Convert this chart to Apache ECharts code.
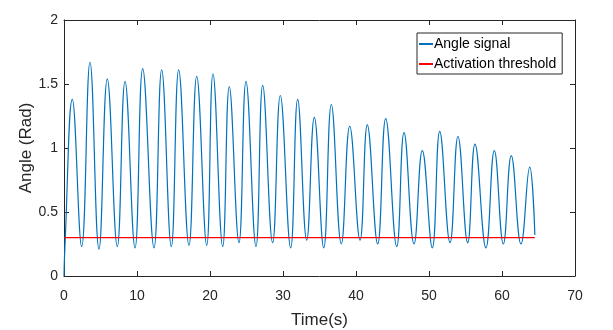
<!DOCTYPE html>
<html>
<head>
<meta charset="utf-8">
<script src="https://cdn.jsdelivr.net/npm/echarts@6/dist/echarts.min.js"></script>
<style>
  html, body { margin: 0; padding: 0; background: #fff; }
  #main { width: 613px; height: 330px; }
</style>
</head>
<body>
<div id="main"></div>
<script>
// values
var startPoints = [[0, 0], [0.12, 0.22]];
var peakTimes = [1.14, 3.56, 5.93, 8.36, 10.78, 13.38, 15.71, 18.18, 20.41, 22.64,
  24.93, 27.22, 29.63, 32.01, 34.29, 36.62, 39.14, 41.55, 44.07, 46.58,
  49.08, 51.47, 53.97, 56.30, 58.95, 61.27, 63.79];
var peakValues = [1.38, 1.67, 1.54, 1.52, 1.62, 1.61, 1.61, 1.56, 1.58, 1.48,
  1.52, 1.49, 1.41, 1.38, 1.24, 1.34, 1.17, 1.18, 1.23, 1.12,
  0.98, 1.13, 1.09, 1.03, 0.98, 0.94, 0.85];
var troughTimes = [2.42, 4.79, 7.30, 9.73, 12.33, 14.70, 17.12, 19.55, 21.74,
  23.97, 26.30, 28.58, 31.05, 33.25, 35.58, 37.99, 40.55, 42.97, 45.58,
  47.95, 50.45, 52.88, 55.30, 57.80, 60.18, 62.60];
var troughValues = [0.23, 0.21, 0.23, 0.22, 0.22, 0.23, 0.24, 0.24, 0.23,
  0.26, 0.23, 0.26, 0.22, 0.28, 0.22, 0.25, 0.28, 0.25, 0.23,
  0.25, 0.22, 0.26, 0.26, 0.22, 0.25, 0.25];
var endPoint = [64.5, 0.32];
var threshold = 0.3;
var thresholdRange = [0, 64.5];

var signal = startPoints.slice();
for (var i = 0; i < peakTimes.length; i++) {
  signal.push([peakTimes[i], peakValues[i]]);
  if (i < troughTimes.length) signal.push([troughTimes[i], troughValues[i]]);
}
signal.push(endPoint);

var axisColor = '#262626';
var font = 'Liberation Sans, Arial, sans-serif';

var chart = echarts.init(document.getElementById('main'));
var option = {
  animation: false,
  backgroundColor: '#fff',
  grid: { left: 64, right: 38, top: 20, bottom: 54, containLabel: false, outerBoundsMode: 'none' },
  legend: {
    left: 417, top: 33,
    orient: 'vertical',
    itemWidth: 14, itemHeight: 2, itemGap: 6,
    padding: [4, 6, 3, 2],
    backgroundColor: '#fff',
    borderColor: axisColor, borderWidth: 1, borderRadius: 0,
    textStyle: { fontFamily: font, fontSize: 14, color: '#000', padding: [0, 0, 0, -4] },
    data: [
      { name: 'Angle signal', icon: 'rect' },
      { name: 'Activation threshold', icon: 'rect' }
    ]
  },
  xAxis: [{
    type: 'value', min: 0, max: 70, interval: 10,
    name: 'Time(s)', nameLocation: 'middle', nameGap: 36, nameMoveOverlap: false,
    nameTextStyle: { fontFamily: font, fontSize: 17, color: axisColor },
    axisLine: { onZero: false, lineStyle: { color: axisColor, width: 1 } },
    axisTick: { inside: true, length: 5, lineStyle: { color: axisColor } },
    axisLabel: { fontFamily: font, fontSize: 14, color: axisColor, margin: 13 },
    splitLine: { show: false }
  }, {
    type: 'value', min: 0, max: 70, interval: 10, position: 'top',
    axisLine: { show: true, onZero: false, lineStyle: { color: axisColor, width: 1 } },
    axisTick: { inside: true, length: 5, lineStyle: { color: axisColor } },
    axisLabel: { show: false },
    splitLine: { show: false }
  }],
  yAxis: [{
    type: 'value', min: 0, max: 2, interval: 0.5,
    name: 'Angle (Rad)', nameLocation: 'middle', nameGap: 29, nameRotate: 90, nameMoveOverlap: false,
    nameTextStyle: { fontFamily: font, fontSize: 17, color: axisColor },
    axisLine: { show: true, onZero: false, lineStyle: { color: axisColor, width: 1 } },
    axisTick: { show: true, inside: true, length: 5, lineStyle: { color: axisColor } },
    axisLabel: { fontFamily: font, fontSize: 14, color: axisColor, margin: 6 },
    splitLine: { show: false }
  }, {
    type: 'value', min: 0, max: 2, interval: 0.5, position: 'right',
    axisLine: { show: true, onZero: false, lineStyle: { color: axisColor, width: 1 } },
    axisTick: { show: true, inside: true, length: 5, lineStyle: { color: axisColor } },
    axisLabel: { show: false },
    splitLine: { show: false }
  }],
  series: [
    {
      name: 'Angle signal', type: 'line',
      data: signal,
      smooth: 0.45,
      showSymbol: false,
      lineStyle: { color: '#0072BD', width: 1.2 },
      itemStyle: { color: '#0072BD' }
    },
    {
      name: 'Activation threshold', type: 'line',
      data: [[thresholdRange[0], threshold], [thresholdRange[1], threshold]],
      showSymbol: false,
      lineStyle: { color: '#FF0000', width: 1.2 },
      itemStyle: { color: '#FF0000' }
    }
  ]
};
chart.setOption(option);
</script>
</body>
</html>
